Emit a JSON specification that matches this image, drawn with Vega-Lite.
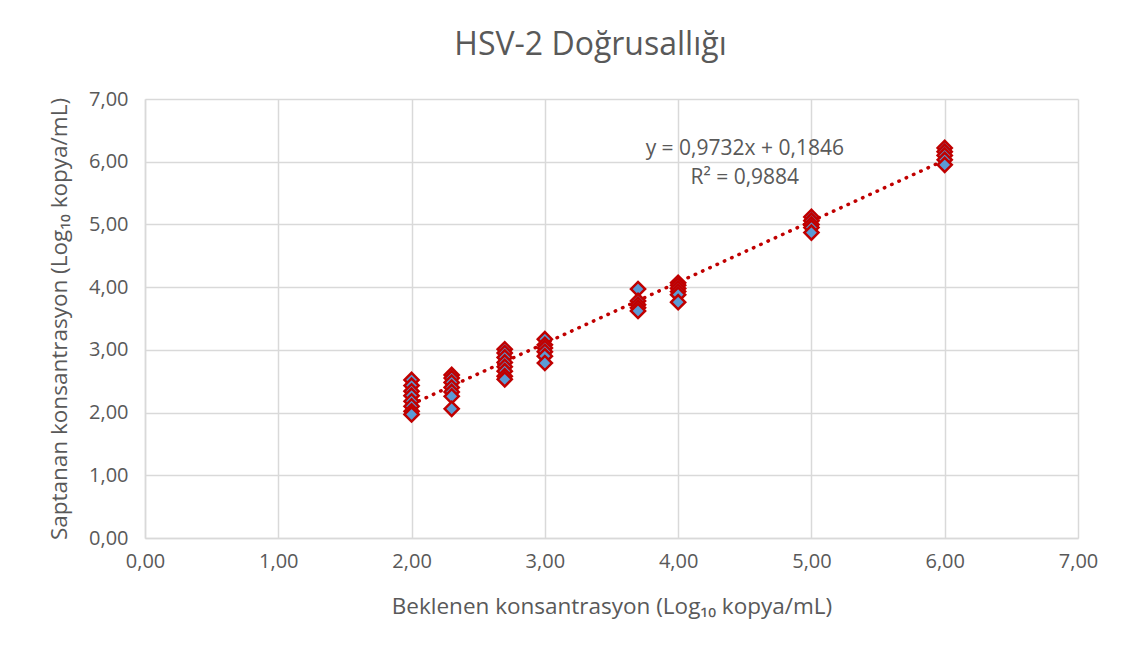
{
  "$schema": "https://vega.github.io/schema/vega-lite/v6.json",
  "autosize": {"type": "none"},
  "width": 933,
  "height": 439,
  "padding": {"left": 145, "top": 99, "right": 44, "bottom": 119},
  "background": "white",
  "config": {
    "font": "Open Sans",
    "view": {"stroke": null},
    "axis": {
      "gridColor": "#d9d9d9",
      "gridWidth": 1.5,
      "domainColor": "#d9d9d9",
      "domainWidth": 1.5,
      "ticks": false,
      "labelColor": "#595959",
      "labelFontSize": 20,
      "labelFlush": false,
      "titleColor": "#595959",
      "titleFontSize": 22.5,
      "titleFontWeight": "normal"
    }
  },
  "title": {
    "text": "HSV-2 Doğrusallığı",
    "fontSize": 32,
    "fontWeight": "normal",
    "color": "#595959",
    "offset": 27,
    "dx": -21
  },
  "datasets": {
    "points": [
      {"expected": 2.0, "detected": 2.52},
      {"expected": 2.0, "detected": 2.43},
      {"expected": 2.0, "detected": 2.34},
      {"expected": 2.0, "detected": 2.27},
      {"expected": 2.0, "detected": 2.18},
      {"expected": 2.0, "detected": 2.10},
      {"expected": 2.0, "detected": 2.02},
      {"expected": 2.0, "detected": 1.97},
      {"expected": 2.301, "detected": 2.60},
      {"expected": 2.301, "detected": 2.55},
      {"expected": 2.301, "detected": 2.48},
      {"expected": 2.301, "detected": 2.40},
      {"expected": 2.301, "detected": 2.33},
      {"expected": 2.301, "detected": 2.26},
      {"expected": 2.301, "detected": 2.06},
      {"expected": 2.699, "detected": 3.01},
      {"expected": 2.699, "detected": 2.95},
      {"expected": 2.699, "detected": 2.88},
      {"expected": 2.699, "detected": 2.80},
      {"expected": 2.699, "detected": 2.73},
      {"expected": 2.699, "detected": 2.66},
      {"expected": 2.699, "detected": 2.58},
      {"expected": 2.699, "detected": 2.53},
      {"expected": 3.0, "detected": 3.17},
      {"expected": 3.0, "detected": 3.08},
      {"expected": 3.0, "detected": 3.03},
      {"expected": 3.0, "detected": 2.97},
      {"expected": 3.0, "detected": 2.90},
      {"expected": 3.0, "detected": 2.79},
      {"expected": 3.699, "detected": 3.97},
      {"expected": 3.699, "detected": 3.78},
      {"expected": 3.699, "detected": 3.72},
      {"expected": 3.699, "detected": 3.67},
      {"expected": 3.699, "detected": 3.62},
      {"expected": 4.0, "detected": 4.07},
      {"expected": 4.0, "detected": 4.03},
      {"expected": 4.0, "detected": 3.98},
      {"expected": 4.0, "detected": 3.93},
      {"expected": 4.0, "detected": 3.88},
      {"expected": 4.0, "detected": 3.76},
      {"expected": 5.0, "detected": 5.12},
      {"expected": 5.0, "detected": 5.06},
      {"expected": 5.0, "detected": 5.00},
      {"expected": 5.0, "detected": 4.95},
      {"expected": 5.0, "detected": 4.87},
      {"expected": 6.0, "detected": 6.22},
      {"expected": 6.0, "detected": 6.16},
      {"expected": 6.0, "detected": 6.10},
      {"expected": 6.0, "detected": 6.03},
      {"expected": 6.0, "detected": 5.95}
    ],
    "trend": [
      {"expected": 2.0, "detected": 2.131},
      {"expected": 6.0, "detected": 6.024}
    ],
    "labels": [
      {"expected": 4.5, "detected": 6.2, "label": "y = 0,9732x + 0,1846"},
      {"expected": 4.5, "detected": 5.74, "label": "R² = 0,9884"}
    ]
  },
  "encoding": {
    "x": {
      "field": "expected",
      "type": "quantitative",
      "scale": {"domain": [0, 7], "nice": false, "zero": false},
      "axis": {
        "values": [0, 1, 2, 3, 4, 5, 6, 7],
        "labelExpr": "replace(format(datum.value, '.2f'), '.', ',')",
        "labelPadding": 13,
        "title": "Beklenen konsantrasyon (Log₁₀ kopya/mL)",
        "titlePadding": 24
      }
    },
    "y": {
      "field": "detected",
      "type": "quantitative",
      "scale": {"domain": [0, 7], "nice": false, "zero": false},
      "axis": {
        "values": [0, 1, 2, 3, 4, 5, 6, 7],
        "labelExpr": "replace(format(datum.value, '.2f'), '.', ',')",
        "labelPadding": 17,
        "title": "Saptanan konsantrasyon (Log₁₀ kopya/mL)",
        "titlePadding": 17
      }
    }
  },
  "layer": [
    {
      "data": {"name": "trend"},
      "mark": {"type": "line", "color": "#c00000", "strokeWidth": 3.5, "strokeDash": [0.5, 7.5], "strokeCap": "round"}
    },
    {
      "data": {"name": "points"},
      "mark": {"type": "point", "shape": "diamond", "filled": true, "fill": "#5b9bd5", "stroke": "#c00000", "strokeWidth": 2.5, "size": 200, "opacity": 1}
    },
    {
      "data": {"name": "labels"},
      "mark": {"type": "text", "fontSize": 21, "color": "#595959", "align": "center", "baseline": "middle"},
      "encoding": {"text": {"field": "label"}}
    }
  ]
}
